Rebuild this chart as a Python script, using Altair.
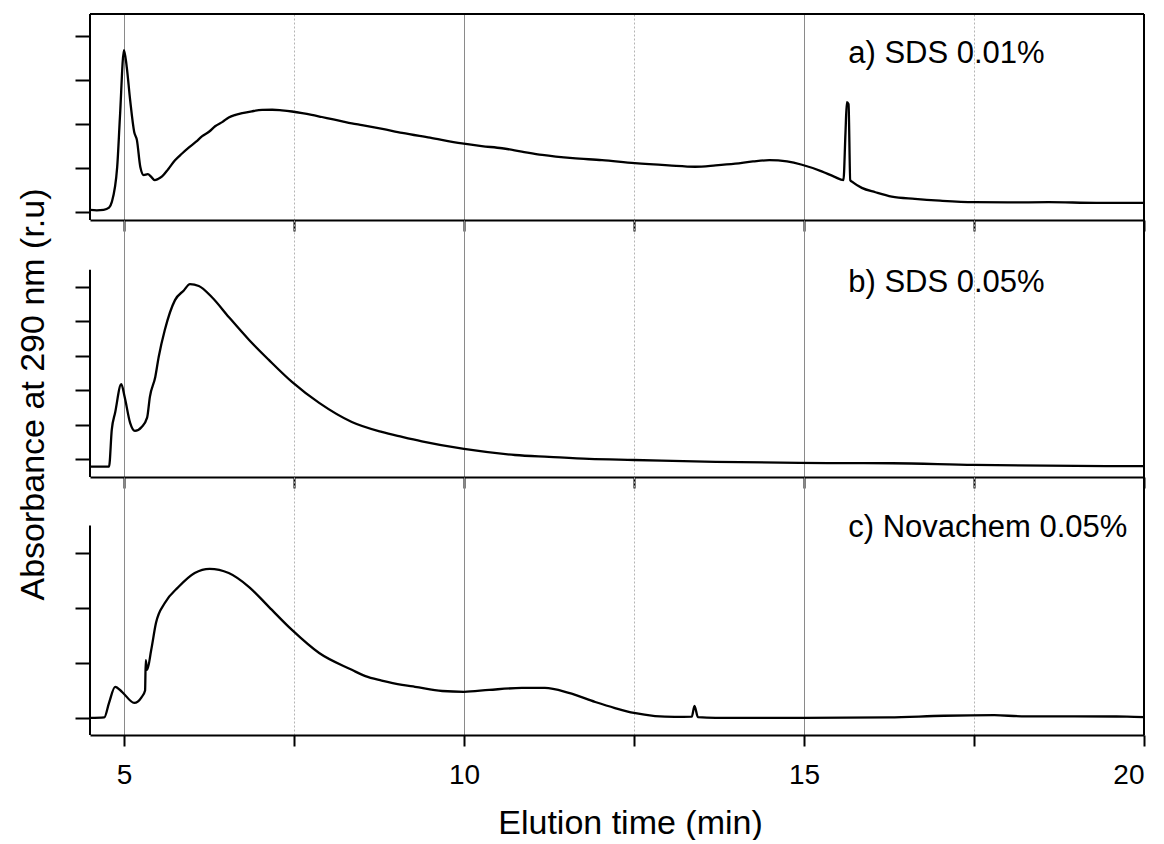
import altair as alt
import pandas as pd

# ---------------- data (elution time in min, absorbance in relative units) ----------------
a_time = [4.50, 4.60, 4.70, 4.78, 4.82, 4.90, 4.94, 5.00, 5.04, 5.09, 5.15, 5.19, 5.24, 5.29,
          5.35, 5.40, 5.45, 5.50, 5.56, 5.65, 5.75, 5.85, 5.96, 6.06, 6.15, 6.25, 6.34, 6.45,
          6.54, 6.64, 6.74, 6.88, 7.03, 7.18, 7.32, 7.47, 7.62, 7.76, 7.91, 8.06, 8.21, 8.35,
          8.50, 8.80, 9.09, 9.50, 9.97, 10.26, 10.56, 10.85, 11.15, 11.60, 12.03, 12.51, 13.01,
          13.40, 13.70, 13.99, 14.25, 14.49, 14.75, 14.97, 15.26, 15.45, 15.58, 15.61, 15.63,
          15.655, 15.68, 15.72, 15.85, 16.05, 16.29, 16.63, 17.00, 17.50, 18.00, 18.60, 19.30, 20.00]
a_abs = [0.10, 0.08, 0.10, 0.20, 0.45, 2.05, 4.30, 7.36, 6.60, 5.10, 3.64, 3.27, 2.05, 1.68,
         1.72, 1.60, 1.45, 1.50, 1.62, 1.95, 2.35, 2.65, 2.95, 3.20, 3.45, 3.65, 3.90, 4.10,
         4.30, 4.42, 4.50, 4.58, 4.64, 4.65, 4.62, 4.57, 4.50, 4.42, 4.32, 4.22, 4.12, 4.03,
         3.95, 3.78, 3.60, 3.38, 3.12, 3.00, 2.90, 2.75, 2.60, 2.45, 2.36, 2.22, 2.12,
         2.06, 2.12, 2.20, 2.30, 2.36, 2.30, 2.15, 1.85, 1.60, 1.45, 3.60, 5.00,
         4.90, 1.45, 1.35, 1.10, 0.90, 0.70, 0.60, 0.52, 0.45, 0.44, 0.45, 0.42, 0.42]

b_time = [4.50, 4.78, 4.82, 4.87, 4.96, 5.01, 5.09, 5.16, 5.26, 5.34, 5.38, 5.46, 5.51, 5.60,
          5.75, 5.88, 5.97, 6.10, 6.29, 6.54, 6.84, 7.13, 7.47, 7.87, 8.35, 8.79, 9.09, 9.38,
          10.00, 10.75, 11.25, 11.84, 12.50, 13.70, 14.93, 16.30, 17.50, 20.00]
b_abs = [-0.45, -0.45, 1.69, 2.70, 4.35, 3.60, 2.10, 1.63, 1.86, 2.40, 3.60, 4.77, 5.93, 7.50,
         9.24, 9.80, 10.17, 10.06, 9.42, 8.26, 6.92, 5.76, 4.48, 3.26, 2.15, 1.57, 1.28, 1.02,
         0.58, 0.23, 0.12, 0.00, -0.06, -0.17, -0.23, -0.25, -0.35, -0.42]

c_time = [4.50, 4.71, 4.78, 4.87, 4.97, 5.15, 5.26, 5.31, 5.32, 5.34, 5.40, 5.47, 5.60, 5.80,
          6.04, 6.26, 6.54, 6.84, 7.13, 7.47, 7.87, 8.35, 8.55, 8.79, 9.09, 9.28, 9.68, 10.00,
          10.37, 10.85, 11.19, 11.54, 11.93, 12.22, 12.50, 12.81, 13.10, 13.35, 13.39, 13.44,
          13.70, 15.00, 16.25, 17.06, 17.80, 18.20, 19.75, 20.00]
c_abs = [0.00, 0.02, 0.55, 1.13, 0.95, 0.55, 0.76, 1.00, 2.10, 1.75, 2.47, 3.45, 4.18, 4.76,
         5.27, 5.42, 5.27, 4.76, 4.04, 3.20, 2.36, 1.75, 1.52, 1.36, 1.20, 1.13, 0.98, 0.95,
         1.02, 1.09, 1.09, 0.91, 0.58, 0.36, 0.18, 0.07, 0.04, 0.05, 0.44, 0.03,
         0.00, 0.00, 0.02, 0.08, 0.10, 0.06, 0.05, 0.03]

panel_labels = ["a) SDS 0.01%", "b) SDS 0.05%", "c) Novachem 0.05%"]
label_time = [15.65, 15.65, 15.65]
label_abs = [6.77, 9.71, 6.58]

x_ticks = [5, 7.5, 10, 12.5, 15, 17.5, 20]
x_domain = [4.5, 20]
y_domains = [[-0.36, 9.0], [-1.05, 13.9], [-0.62, 8.76]]
y_ticks = [list(range(0, 9)), list(range(0, 12)), list(range(0, 8))]
y_axis_top = [9.0, 11, 7]
panel_heights = [206, 257, 258]

W = 1054
FONT = "Liberation Sans"

series = [(a_time, a_abs), (b_time, b_abs), (c_time, c_abs)]


def make_panel(i):
    t, v = series[i]
    df = pd.DataFrame({"t": t, "a": v})
    last = i == 2
    H = panel_heights[i]
    top_val = y_axis_top[i]

    x_axis = alt.Axis(
        values=x_ticks,
        format="d",
        grid=True,
        gridDash={"condition": {"test": "datum.value % 5 === 0", "value": []}, "value": [2, 2]},
        gridColor={"condition": {"test": "datum.value % 5 === 0", "value": "#8a8a8a"}, "value": "#b4b4b4"},
        gridWidth=1,
        domain=True,
        domainColor="black",
        domainWidth=2,
        ticks=True,
        tickColor="black",
        tickWidth=2,
        tickSize=11,
        labels=last,
        labelExpr="datum.value % 5 === 0 ? format(datum.value, 'd') : ''",
        labelFont=FONT,
        labelFontSize=28,
        labelColor="black",
        labelBaseline="alphabetic",
        labelPadding=37,
        labelOverlap=False,
        title="Elution time (min)" if last else None,
        titleFont=FONT,
        titleFontSize=34,
        titleFontWeight="normal",
        titleColor="black",
        titleX=540,
        titleY=98,
        titleAlign="center",
        titleBaseline="alphabetic",
    )
    y_axis_kwargs = dict(
        values=y_ticks[i],
        grid=False,
        domain=False,
        labels=False,
        ticks=True,
        tickColor="black",
        tickWidth=2,
        tickSize={"condition": {"test": "datum.value === %s" % top_val, "value": 8}, "value": 15},
    )
    if i == 1:
        y_axis_kwargs.update(
            title="Absorbance at 290 nm (r.u)",
            titleFont=FONT,
            titleFontSize=34,
            titleFontWeight="normal",
            titleColor="black",
            titleAngle=270,
            titleX=-40,
            titleY=174,
            titleAlign="center",
            titleBaseline="bottom",
        )
    else:
        y_axis_kwargs.update(title=None)
    y_axis = alt.Axis(**y_axis_kwargs)

    xs = alt.Scale(domain=x_domain, nice=False, zero=False)
    ys = alt.Scale(domain=y_domains[i], nice=False, zero=False)

    line = alt.Chart(df).mark_line(color="black", strokeWidth=2.3, interpolate="monotone").encode(
        x=alt.X("t:Q", scale=xs, axis=x_axis),
        y=alt.Y("a:Q", scale=ys, axis=y_axis),
    )

    lab_df = pd.DataFrame({"t": [label_time[i]], "a": [label_abs[i]], "label": [panel_labels[i]]})
    label = alt.Chart(lab_df).mark_text(
        align="left", baseline="alphabetic", font=FONT, fontSize=31, color="black"
    ).encode(x="t:Q", y="a:Q", text="label:N")

    one = pd.DataFrame({"k": [0]})
    frame_df = pd.DataFrame({"top": [top_val], "bottom": [y_domains[i][0]]})
    left = alt.Chart(frame_df).mark_rule(color="black", strokeWidth=2).encode(
        x=alt.value(0), y="top:Q", y2="bottom:Q"
    )
    right = alt.Chart(one).mark_rule(color="black", strokeWidth=2).encode(
        x=alt.value(W), y=alt.value(0), y2=alt.value(H)
    )
    layers = [line, label, left, right]
    if i == 0:
        topline = alt.Chart(one).mark_rule(color="black", strokeWidth=2).encode(
            x=alt.value(0), x2=alt.value(W), y=alt.value(0)
        )
        layers.append(topline)
    return alt.layer(*layers).properties(width=W, height=H)


chart = alt.vconcat(make_panel(0), make_panel(1), make_panel(2), spacing=0, bounds="flush")
chart = (
    chart.properties(padding={"left": 7, "top": 5, "right": 5, "bottom": 0})
    .configure_view(stroke=None)
    .configure_axis(labelFontSize=28, labelFont=FONT)
)

chart.save("out.html", embed_options={"renderer": "svg", "actions": False})
